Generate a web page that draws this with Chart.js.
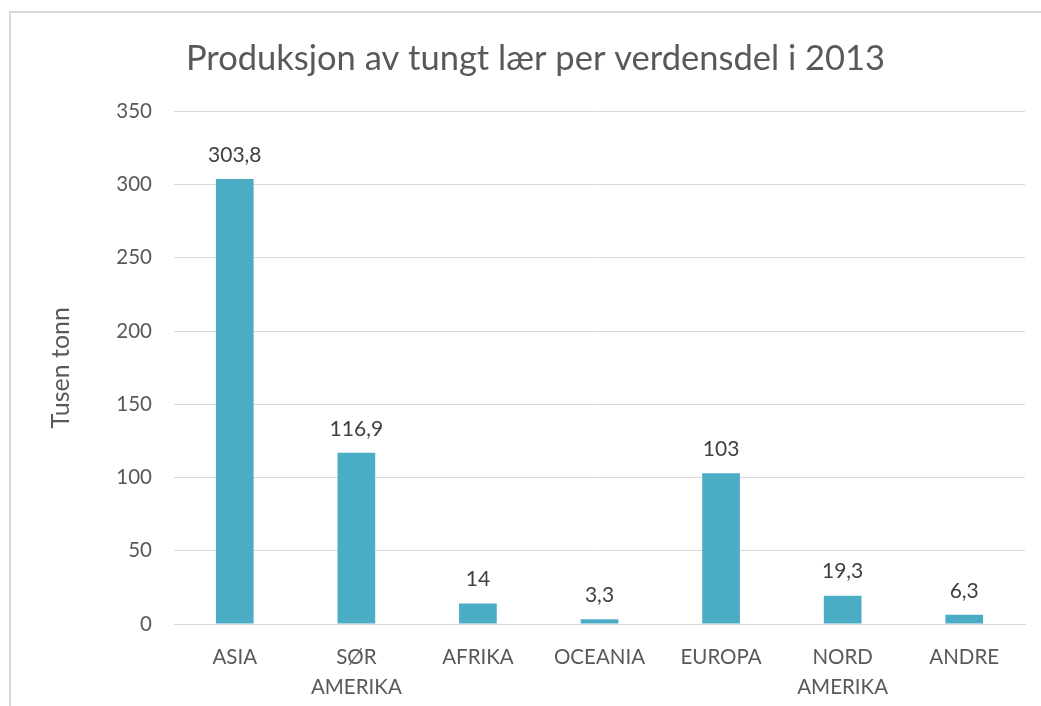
<!DOCTYPE html>
<html>
<head>
<meta charset="utf-8">
<script src="https://cdn.jsdelivr.net/npm/chart.js@4"></script>
<style>
  html, body { margin: 0; padding: 0; background: #fff; overflow: hidden; }
  #frame {
    position: absolute; left: 9px; top: 11px; width: 1100px; height: 800px;
    border-left: 2px solid #d9d9d9; border-top: 2px solid #d9d9d9;
  }
  #wrap { position: absolute; left: 0; top: 0; width: 1041px; height: 706px; }
</style>
</head>
<body>
<div id="frame"></div>
<div id="wrap"><canvas id="leatherChart"></canvas></div>
<script>
const categories = ["ASIA", ["SØR", "AMERIKA"], "AFRIKA", "OCEANIA", "EUROPA", ["NORD", "AMERIKA"], "ANDRE"];
const production = [303.8, 116.9, 14, 3.3, 103, 19.3, 6.3];
const yTicks = [0, 50, 100, 150, 200, 250, 300, 350];

const FONT = "Lato";

// value labels over the bars, comma as decimal sign
const barLabels = {
  id: "barLabels",
  afterDatasetsDraw(chart) {
    const ctx = chart.ctx;
    const meta = chart.getDatasetMeta(0);
    ctx.save();
    ctx.font = "21px " + FONT;
    ctx.fillStyle = "#404040";
    ctx.textAlign = "center";
    ctx.textBaseline = "middle";
    meta.data.forEach((bar, i) => {
      const txt = String(production[i]).replace(".", ",");
      ctx.fillText(txt, bar.x, bar.y - 24);
    });
    ctx.restore();
  }
};

const ctx = document.getElementById("leatherChart").getContext("2d");
new Chart(ctx, {
  type: "bar",
  data: {
    labels: categories,
    datasets: [{
      label: "Tusen tonn",
      data: production,
      backgroundColor: "#4bacc6",
      borderWidth: 0,
      categoryPercentage: 1,
      barPercentage: 0.31
    }]
  },
  options: {
    responsive: true,
    maintainAspectRatio: false,
    animation: false,
    layout: { padding: { left: 46, right: 16, top: 0, bottom: 0 } },
    plugins: {
      legend: { display: false },
      tooltip: { enabled: false },
      title: {
        display: true,
        text: "Produksjon av tungt lær per verdensdel i 2013",
        color: "#595959",
        font: { family: FONT, size: 34.5, weight: "normal" },
        padding: { top: 38, bottom: 32 }
      }
    },
    scales: {
      x: {
        grid: { display: false },
        border: { color: "#d9d9d9", width: 1 },
        afterFit: (scale) => { scale.height = 82; },
        ticks: {
          color: "#595959",
          font: { family: FONT, size: 20.5, lineHeight: 1.45 },
          padding: 11,
          maxRotation: 0,
          autoSkip: false
        }
      },
      y: {
        min: 0,
        max: 350,
        afterBuildTicks: (scale) => { scale.ticks = yTicks.map(v => ({ value: v })); },
        afterFit: (scale) => { scale.width = 128; },
        grid: { color: "#d9d9d9", lineWidth: 1, drawTicks: false },
        border: { display: false },
        ticks: {
          color: "#595959",
          font: { family: FONT, size: 20.5 },
          padding: 22
        },
        title: {
          display: true,
          text: "Tusen tonn",
          color: "#595959",
          font: { family: FONT, size: 25 },
          padding: 0
        }
      }
    }
  },
  plugins: [barLabels]
});
</script>
</body>
</html>
